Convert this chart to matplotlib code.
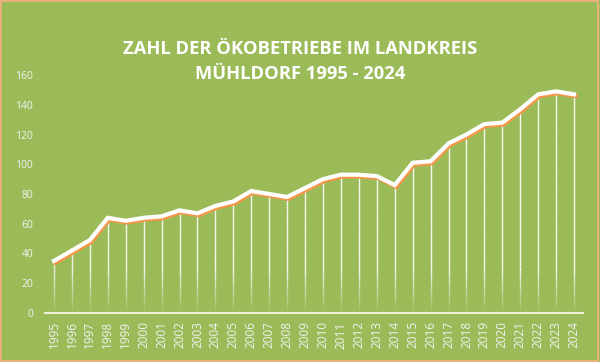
import numpy as np
import matplotlib.pyplot as plt
import matplotlib.patheffects as pe
from matplotlib.collections import LineCollection
from matplotlib.patches import Rectangle

years = [str(y) for y in range(1995, 2025)]
betriebe = [35, 42, 49, 64, 62, 64, 65, 69, 67, 72, 75, 82, 80, 78, 84,
            90, 93, 93, 92, 86, 101, 102, 114, 120, 127, 128, 137, 147, 149, 147]
y_ticks = [0, 20, 40, 60, 80, 100, 120, 140, 160]
title = 'ZAHL DER ÖKOBETRIEBE IM LANDKREIS\nMÜHLDORF 1995 - 2024'

green = '#9BBB59'
orange = '#F79646'
light = '#F2F2F2'

plt.rcParams['font.family'] = ['Open Sans', 'DejaVu Sans']

fig = plt.figure(figsize=(6, 3.62), dpi=100)
fig.patch.set_facecolor(green)
fig.patches.append(Rectangle((0.002, 0.003), 0.994, 0.994, transform=fig.transFigure,
                             fill=False, edgecolor='#F4B183', linewidth=1.2))

ax = fig.add_axes([0.075, 0.1354, 0.8967, 0.6574])
ax.set_facecolor(green)

x = np.arange(len(years))

# drop lines, fading out towards the axis
segs, cols = [], []
for xi, v in zip(x, betriebe):
    edges = np.linspace(0, v, 40)
    for a, b in zip(edges[:-1], edges[1:]):
        segs.append([(xi, a), (xi, b)])
        alpha = min(1.0, ((a + b) / 2) / 30.0) * 0.95
        cols.append((1, 1, 1, alpha))
ax.add_collection(LineCollection(segs, colors=cols, linewidths=1.0, zorder=2))

ax.plot(x, betriebe, color='white', linewidth=3.0, solid_joinstyle='miter', zorder=3,
        path_effects=[pe.SimpleLineShadow(offset=(1.0, -1.3), shadow_color=orange, alpha=1.0),
                      pe.Normal()])

ax.set_xlim(-0.5, len(years) - 0.5)
ax.set_ylim(0, 160)
ax.set_yticks(y_ticks)
ax.set_xticks(x)
ax.set_xticklabels(years, rotation=90, fontsize=8.5, color=light)
ax.tick_params(axis='y', length=0, pad=8.5, labelsize=7.5, labelcolor=light)
ax.tick_params(axis='x', length=0, pad=6)

for s in ['top', 'right', 'left']:
    ax.spines[s].set_visible(False)
ax.spines['bottom'].set_color('#EEF0DC')
ax.spines['bottom'].set_linewidth(1.5)

fig.text(0.5, 0.83, title, ha='center', va='center', color='white',
         fontsize=13.2, fontweight='bold', linespacing=1.45)

fig.savefig('out.png', dpi=100, facecolor=fig.get_facecolor())
